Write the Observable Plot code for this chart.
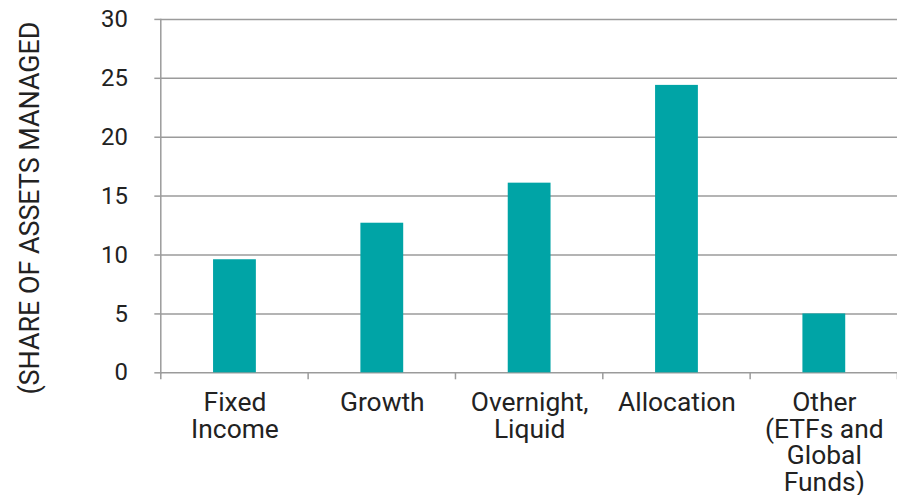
<!DOCTYPE html>
<html><head><meta charset="utf-8">
<script src="https://cdn.jsdelivr.net/npm/d3@7"></script>
<script src="https://cdn.jsdelivr.net/npm/@observablehq/plot@0.6"></script>
<style>body{margin:0;overflow:hidden;background:#fff}</style>
</head><body><div id="chart"></div>
<script>
const categories = ["Fixed Income", "Growth", "Overnight, Liquid", "Allocation", "Other (ETFs and Global Funds)"];
const tickLabels = ["Fixed\nIncome", "Growth", "Overnight,\nLiquid", "Allocation", "Other\n(ETFs and\nGlobal\nFunds)"];
const shares = [9.6, 12.7, 16.1, 24.4, 5.0];
const yTicks = [0, 5, 10, 15, 20, 25, 30];
const yLabel = "(SHARE OF ASSETS MANAGED";

const data = categories.map((c, i) => ({category: c, share: shares[i]}));
const grey = "#9b9b9b";

const plot = Plot.plot({
  width: 901, height: 497,
  marginLeft: 161, marginRight: 0, marginTop: 19, marginBottom: 123,
  style: {fontFamily: "Roboto", background: "#fff", color: "#222", overflow: "visible"},
  x: {domain: categories, paddingInner: 0.71, paddingOuter: 0.355, label: null},
  y: {domain: [0, 30], ticks: yTicks, label: null},
  marks: [
    Plot.gridY(yTicks, {stroke: grey, strokeOpacity: 1, strokeWidth: 1.5}),
    Plot.axisY(yTicks, {tickSize: 6, tickPadding: 27, fontSize: 24, stroke: grey, strokeWidth: 1.5, fill: "#222", label: null}),
    Plot.barY(data, {x: "category", y: "share", fill: "#00A4A6"}),
    Plot.frame({anchor: "left", stroke: grey, strokeWidth: 1.5}),
    Plot.axisX({tickSize: 0, tickPadding: 20, fontSize: 26.5, lineHeight: 1.0, fill: "#222", label: null,
      tickFormat: d => tickLabels[categories.indexOf(d)]}),
    Plot.text([yLabel], {frameAnchor: "left", textAnchor: "middle", rotate: -90, dx: -131, dy: 12, fontSize: 27, fill: "#222", text: d => d})
  ]
});

// boundary ticks between category bands, placed from the x band scale
const xs = plot.scale("x");
const ysc = plot.scale("y");
const gap = (xs.step - xs.bandwidth) / 2;
const base = ysc.apply(0);
const bounds = categories.map(c => xs.apply(c) - gap).concat([xs.apply(categories[categories.length - 1]) + xs.bandwidth + gap]);
const g = d3.select(plot).append("g").attr("stroke", grey).attr("stroke-width", 1.5);
g.selectAll("line").data(bounds).join("line")
  .attr("x1", d => d).attr("x2", d => d)
  .attr("y1", base).attr("y2", base + 7);

document.getElementById("chart").appendChild(plot);
</script>
</body></html>
